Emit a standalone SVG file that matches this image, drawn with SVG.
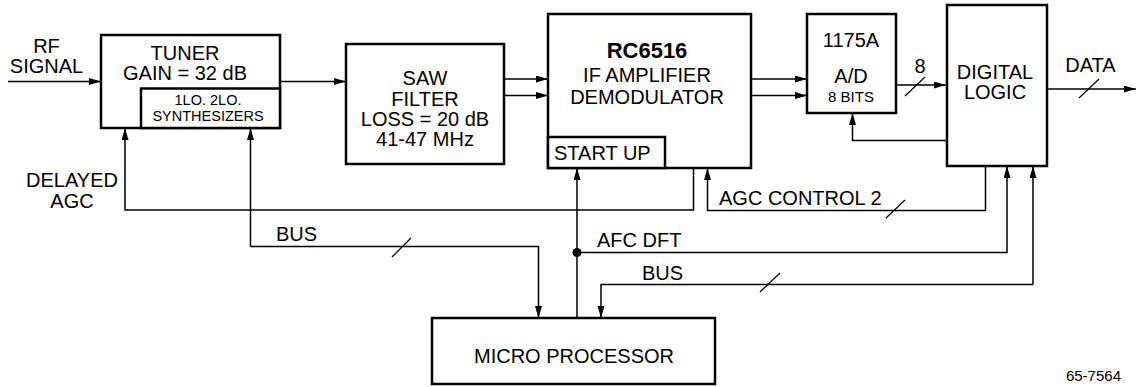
<svg xmlns="http://www.w3.org/2000/svg" width="1136" height="387" viewBox="0 0 1136 387">
<style>
.box{fill:#fff;stroke:#000;stroke-width:2.5}
.ln{fill:none;stroke:#000;stroke-width:1.5}
.sl{fill:none;stroke:#000;stroke-width:1.2}
text{font-family:"Liberation Sans",Arial,sans-serif;font-size:20px;fill:#000}
.c{text-anchor:middle}
.s{font-size:15px}
.t{font-size:14.5px}
.b{font-weight:bold;font-size:22px}
</style>
<defs>
<marker id="ah" markerUnits="userSpaceOnUse" markerWidth="12" markerHeight="8" refX="12" refY="3.5" orient="auto">
<path d="M0,0 L12,3.5 L0,7 z" fill="#000"/>
</marker>
</defs>
<rect width="1136" height="387" fill="#fff"/>
<g id="connectors">
<line class="ln" x1="8" y1="81.5" x2="101" y2="81.5" marker-end="url(#ah)"/>
<line class="ln" x1="280" y1="81.5" x2="346" y2="81.5" marker-end="url(#ah)"/>
<line class="ln" x1="504" y1="79" x2="548" y2="79" marker-end="url(#ah)"/>
<line class="ln" x1="504" y1="95.5" x2="548" y2="95.5" marker-end="url(#ah)"/>
<line class="ln" x1="751" y1="79" x2="807" y2="79" marker-end="url(#ah)"/>
<line class="ln" x1="751" y1="95.5" x2="807" y2="95.5" marker-end="url(#ah)"/>
<line class="ln" x1="896" y1="85" x2="946" y2="85" marker-end="url(#ah)"/>
<line class="sl" x1="905" y1="96" x2="925" y2="77"/>
<line class="ln" x1="1047" y1="89" x2="1136" y2="89" marker-end="url(#ah)"/>
<line class="sl" x1="1079" y1="98" x2="1099" y2="79"/>
<polyline class="ln" points="947,140.5 852.5,140.5 852.5,113" marker-end="url(#ah)"/>
<polyline class="ln" points="693.5,168 693.5,210 125,210 125,128" marker-end="url(#ah)"/>
<polyline class="ln" points="985.5,166 985.5,210.5 707.5,210.5 707.5,168" marker-end="url(#ah)"/>
<line class="sl" x1="886" y1="218" x2="905" y2="200"/>
<polyline class="ln" points="250.5,246.5 250.5,128" marker-end="url(#ah)"/>
<polyline class="ln" points="250.5,246.5 538.5,246.5 538.5,318" marker-end="url(#ah)"/>
<line class="sl" x1="392" y1="257" x2="411" y2="238"/>
<line class="ln" x1="577" y1="318" x2="577" y2="168" marker-end="url(#ah)"/>
<circle cx="577" cy="252.5" r="4.5" fill="#000"/>
<polyline class="ln" points="577,252.5 1007,252.5 1007,166" marker-end="url(#ah)"/>
<polyline class="ln" points="1033,284.5 1033,166" marker-end="url(#ah)"/>
<polyline class="ln" points="1033,284.5 601,284.5 601,318" marker-end="url(#ah)"/>
<line class="sl" x1="760" y1="292" x2="780" y2="273"/>
</g>
<g id="tuner">
<rect class="box" x="101" y="35" width="179" height="93"/>
<text class="c" x="185" y="60">TUNER</text>
<text class="c" x="185" y="80">GAIN = 32 dB</text>
</g>
<g id="synthesizers">
<rect class="box" x="141" y="88.5" width="139" height="39.5"/>
<text class="c t" x="208" y="105">1LO. 2LO.</text>
<text class="c t" x="208" y="120.5">SYNTHESIZERS</text>
</g>
<g id="saw">
<rect class="box" x="346" y="44" width="158" height="120"/>
<text class="c" x="425" y="85">SAW</text>
<text class="c" x="425" y="105.5">FILTER</text>
<text class="c" x="425" y="125.5">LOSS = 20 dB</text>
<text class="c" x="425" y="145.5">41-47 MHz</text>
</g>
<g id="rc6516">
<rect class="box" x="548" y="14" width="203" height="154"/>
<text class="c b" x="647" y="57.5">RC6516</text>
<text class="c" x="647" y="81.5">IF AMPLIFIER</text>
<text class="c" x="647" y="103.5">DEMODULATOR</text>
</g>
<g id="startup">
<rect class="box" x="548" y="137" width="117" height="31"/>
<text x="554" y="159.5">START UP</text>
</g>
<g id="ad">
<rect class="box" x="807" y="14" width="89" height="99"/>
<text class="c" x="851" y="46.5">1175A</text>
<text class="c" x="851" y="83">A/D</text>
<text class="c s" x="851" y="102">8 BITS</text>
</g>
<g id="digital">
<rect class="box" x="947" y="5" width="100" height="161"/>
<text class="c" x="995" y="79">DIGITAL</text>
<text class="c" x="995" y="99">LOGIC</text>
</g>
<g id="micro">
<rect class="box" x="432" y="318" width="283" height="66"/>
<text class="c" x="574" y="363">MICRO PROCESSOR</text>
</g>
<g id="labels">
<text class="c" x="46.5" y="53">RF</text>
<text class="c" x="46.5" y="73">SIGNAL</text>
<text class="c" x="72" y="187">DELAYED</text>
<text class="c" x="72" y="207.5">AGC</text>
<text x="276" y="241">BUS</text>
<text x="719" y="205">AGC CONTROL 2</text>
<text x="597" y="247">AFC DFT</text>
<text x="642" y="280">BUS</text>
<text class="c" x="920" y="72.5">8</text>
<text class="c" x="1090.5" y="71.5">DATA</text>
<text class="s" x="1121" y="381" text-anchor="end">65-7564</text>
</g>
</svg>
